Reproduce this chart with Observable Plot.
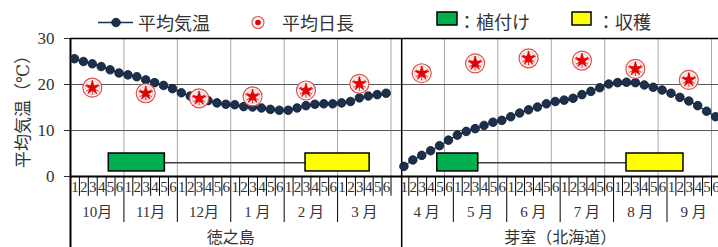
<!DOCTYPE html>
<html><head><meta charset="utf-8">
<script src="https://cdn.jsdelivr.net/npm/d3@7"></script>
<script src="https://cdn.jsdelivr.net/npm/@observablehq/plot@0.6"></script>
<style>
body{margin:0;background:#fff;}
#wrap{position:relative;width:718px;height:247px;overflow:hidden;}
#legend{position:absolute;left:0;top:0;width:718px;height:36px;font-family:"Noto Sans CJK JP","Liberation Serif",serif;}
.li{position:absolute;font-size:18px;line-height:1;white-space:nowrap;color:#333;}
#chart svg text{font-family:"Liberation Serif","Times New Roman","DejaVu Serif","Noto Sans CJK JP",serif;}
</style></head><body>
<div id="wrap"><div id="chart"></div><div id="legend"></div></div>
<script>
// ---- data ----
const regions = ["徳之島", "芽室（北海道）"];
const pentads = ["1", "2", "3", "4", "5", "6"];
const tokuMonths = ["10月", "11月", "12月", "1 月", "2 月", "3 月"];
const memuroMonths = ["4 月", "5 月", "6 月", "7 月", "8 月", "9 月"];
// 平均気温 (℃) per 半旬
const tokuTemp = [25.6,25.0,24.5,23.9,23.2,22.5,22.1,21.7,21.0,20.4,19.8,19.1,18.2,17.5,16.9,16.5,16.0,15.7,15.6,15.2,15.1,14.9,14.6,14.4,14.4,14.9,15.4,15.7,15.8,15.8,16.0,16.3,17.1,17.5,17.8,18.1];
const memuroTemp = [2.2,3.6,4.6,5.6,6.7,7.9,9.0,9.8,10.4,11.1,11.8,12.2,13.0,13.8,14.5,15.1,15.8,16.3,16.6,17.0,17.8,18.5,19.3,20.1,20.4,20.5,20.4,19.9,19.4,18.8,18.1,17.2,16.4,15.4,14.2,13.0];
// 平均日長 (plotted on same vertical scale), one per month
const tokuDayLen = [19.3, 18.1, 17.0, 17.4, 18.7, 20.15];
const memuroDayLen = [22.45, 24.6, 25.7, 25.2, 23.4, 21.0];
// 植付け / 収穫 periods in 半旬 units from the start of each region's table
const tokuPlant = [4.3, 10.6];
const tokuHarvest = [26.4, 33.6];
const memuroPlant = [4.2, 8.8];
const memuroHarvest = [25.45, 31.85];

// ---- layout constants ----
const offsets = [0, 37];      // table start (半旬 slots) of each region
const sepX = 37.2;            // region separator
const FONT = '"Liberation Serif","Times New Roman","DejaVu Serif","Noto Sans CJK JP",serif';
const navy = "#1c2f4d";

const temps = [
  ...tokuTemp.map((v, i) => ({r: 0, x: offsets[0] + i + 0.45, y: v})),
  ...memuroTemp.map((v, i) => ({r: 1, x: offsets[1] + i + 0.45, y: v}))
];
const dayLen = [
  ...tokuDayLen.map((v, m) => ({x: offsets[0] + m * 6 + 2.45, y: v})),
  ...memuroDayLen.map((v, m) => ({x: offsets[1] + m * 6 + 2.45, y: v}))
];
const periods = [
  {x1: offsets[0] + tokuPlant[0], x2: offsets[0] + tokuPlant[1], kind: "plant"},
  {x1: offsets[0] + tokuHarvest[0], x2: offsets[0] + tokuHarvest[1], kind: "harvest"},
  {x1: offsets[1] + memuroPlant[0], x2: offsets[1] + memuroPlant[1], kind: "plant"},
  {x1: offsets[1] + memuroHarvest[0], x2: offsets[1] + memuroHarvest[1], kind: "harvest"}
];
const links = [
  {x1: offsets[0] + tokuPlant[1], x2: offsets[0] + tokuHarvest[0]},
  {x1: offsets[1] + memuroPlant[1], x2: offsets[1] + memuroHarvest[0]}
];
const monthLists = [tokuMonths, memuroMonths];
const pentadCells = [], monthCells = [], ticks = [];
offsets.forEach((o, r) => {
  monthLists[r].forEach((mName, m) => {
    monthCells.push({x: o + m * 6 + 3, t: mName});
    pentads.forEach((p, k) => pentadCells.push({x: o + m * 6 + k + 0.5, t: p}));
  });
  for (let k = 1; k <= 36; k++) {
    ticks.push({x: o + k, long: k % 6 === 0 && k < 36});
  }
});
const regionCells = regions.map((t, r) => ({x: offsets[r] + 18, t}));

const xMax = 648 / 8.903;
const chart = Plot.plot({
  width: 718, height: 247,
  marginLeft: 70, marginRight: 0, marginTop: 38, marginBottom: 71,
  x: {domain: [0, xMax], axis: null},
  y: {domain: [0, 30]},
  style: {fontFamily: FONT, background: "transparent", overflow: "visible", color: "#333"},
  marks: [
    Plot.axisY({ticks: [0, 10, 20, 30], tickSize: 6, tickPadding: 10, fontSize: 17,
      label: "平均気温（℃）", labelAnchor: "center", labelOffset: 54, labelArrow: "none", fontFamily: FONT}),
    Plot.ruleX(d3.range(6, 73, 6), {y1: 0, y2: 30, stroke: "#a6a6a6", strokeWidth: 1}),
    Plot.ruleY([10, 20], {x1: 0, x2: xMax, stroke: "#595959", strokeWidth: 1}),
    Plot.ruleY([30], {x1: 0, x2: xMax, stroke: "#000", strokeWidth: 1.5}),
    // table ticks
    Plot.ruleX(ticks, {x: "x", y1: 0, y2: d => d.long ? -10 : -4.3, stroke: "#000", strokeWidth: 1}),
    Plot.ruleX([0], {y1: 30, y2: -15.6, stroke: "#000", strokeWidth: 2}),
    Plot.ruleX([sepX], {y1: 30, y2: -15.6, stroke: "#000", strokeWidth: 1.5}),
    Plot.ruleY([0], {x1: 0, x2: xMax, stroke: "#000", strokeWidth: 2}),
    // periods
    Plot.ruleY(links, {x1: "x1", x2: "x2", y: 3, stroke: "#404040", strokeWidth: 1.5}),
    Plot.rect(periods, {x1: "x1", x2: "x2", y1: 1.1, y2: 5.0,
      fill: d => d.kind === "plant" ? "#00b050" : "#ffff00", stroke: "#000", strokeWidth: 1.5}),
    // temperature
    Plot.line(temps, {x: "x", y: "y", z: "r", stroke: navy, strokeWidth: 1.2}),
    Plot.dot(temps, {x: "x", y: "y", r: 4.3, fill: navy, stroke: "#0d1a2e", strokeWidth: 0.8}),
    // day length markers
    Plot.dot(dayLen, {x: "x", y: "y", r: 9.5, fill: "#fff6f6", stroke: "#d9534f", strokeWidth: 1.2}),
    Plot.dot(dayLen, {x: "x", y: "y", r: 7, fill: "none", stroke: "#f2b8b8", strokeWidth: 0.8}),
    Plot.dot(dayLen, {x: "x", y: "y", r: 6.5, symbol: "asterisk", stroke: "#b33a3a", strokeWidth: 1}),
    Plot.dot(dayLen, {x: "x", y: "y", r: 4.5, symbol: "star", fill: "#e60000", stroke: "#e60000", strokeWidth: 0.5}),
    // table text
    Plot.text(pentadCells, {x: "x", y: -2.4, text: "t", fontSize: 15, fill: "#333"}),
    Plot.text(monthCells, {x: "x", y: -7.7, text: "t", fontSize: 15, fill: "#333"}),
    Plot.text(regionCells, {x: "x", y: -13.3, text: "t", fontSize: 16, fill: "#333"})
  ]
});
document.getElementById("chart").appendChild(chart);

// ---- legend ----
const lg = document.getElementById("legend");
lg.innerHTML = `
<svg style="position:absolute;left:0;top:0" width="718" height="36">
  <line x1="98" x2="133" y1="22.5" y2="22.5" stroke="${navy}" stroke-width="1.5"/>
  <circle cx="116" cy="22.5" r="4.3" fill="${navy}" stroke="#0d1a2e" stroke-width="0.8"/>
  <circle cx="258" cy="22.5" r="6" fill="#fff6f6" stroke="#d9534f" stroke-width="1.1"/>
  <circle cx="258" cy="22.5" r="2.8" fill="#e60000"/>
  <rect x="437" y="12" width="20" height="13" fill="#00b050" stroke="#000" stroke-width="1.5"/>
  <rect x="572" y="12" width="19" height="13" fill="#ffff00" stroke="#000" stroke-width="1.5"/>
</svg>
<span class="li" style="left:138px;top:13px">平均気温</span>
<span class="li" style="left:282px;top:13px">平均日長</span>
<span class="li" style="left:458px;top:12px">：植付け</span>
<span class="li" style="left:597px;top:12px">：収穫</span>`;
</script>
</body></html>
